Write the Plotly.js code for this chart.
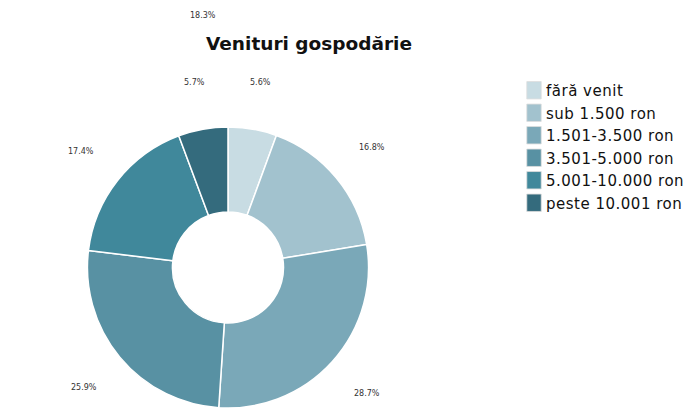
<!DOCTYPE html>
<html>
<head>
<meta charset="utf-8">
<script src="https://cdn.plot.ly/plotly-3.0.1.min.js"></script>
<style>html,body{margin:0;padding:0;background:#fff;}#chart{width:689px;height:408px;}</style>
</head>
<body>
<div id="chart"></div>
<script>
const categories = ["fără venit", "sub 1.500 ron", "1.501-3.500 ron", "3.501-5.000 ron", "5.001-10.000 ron", "peste 10.001 ron"];
const values = [5.6, 16.8, 28.7, 25.9, 17.4, 5.7];
const valueLabels = ["5.6%", "16.8%", "28.7%", "25.9%", "17.4%", "5.7%"];
const strayLabel = "18.3%";
const colors = ["#c8dce3", "#a2c2ce", "#7aa8b8", "#5891a3", "#40889b", "#346b7d"];

const W = 689, H = 408;
const domX = [0.1248, 0.537];
const domY = [0.0, 0.689];

// pie geometry derived from domain
const rPx = Math.min((domX[1]-domX[0])*W, (domY[1]-domY[0])*H)/2;
const cx = (domX[0]+domX[1])/2;
const cy = (domY[0]+domY[1])/2;
const total = values.reduce((a,b)=>a+b,0);
const annotations = [];
let cum = 0;
values.forEach((v,i)=>{
  const mid = (cum + v/2)/total*2*Math.PI;
  cum += v;
  const rl = rPx*1.335;
  annotations.push({
    x: cx + rl*Math.sin(mid)/W,
    y: cy + rl*Math.cos(mid)/H,
    xref: 'paper', yref: 'paper', showarrow: false,
    xanchor: 'center', yanchor: 'middle',
    text: valueLabels[i],
    font: {family: 'DejaVu Sans', size: 8, color: '#333'}
  });
});
annotations.push({x: 203/W, y: 1-16/H, xref:'paper', yref:'paper', showarrow:false,
  xanchor: 'center', yanchor: 'middle',
  text: strayLabel, font:{family:'DejaVu Sans', size:8, color:'#333'}});

const data = [{
  type: 'pie',
  labels: categories,
  values: values,
  hole: 0.395,
  sort: false,
  direction: 'clockwise',
  rotation: 0,
  textinfo: 'none',
  marker: {colors: colors, line: {color: '#ffffff', width: 1.5}},
  domain: {x: domX, y: domY}
}];

const layout = {
  width: W, height: H,
  margin: {l:0, r:0, t:0, b:0},
  paper_bgcolor: '#ffffff',
  title: {text: '<b>Venituri gospodărie</b>', x: 309/W, xanchor: 'center', y: 1-44/H, yanchor: 'middle',
          font: {family: 'DejaVu Sans', size: 18.5, color: '#111'}},
  showlegend: true,
  legend: {x: 506/W, xanchor: 'left', y: 1-74/H, yanchor: 'top',
           font: {family: 'DejaVu Sans', size: 15, color: '#111'},
           bgcolor: 'rgba(0,0,0,0)', itemwidth: 30},
  annotations: annotations
};
Plotly.newPlot('chart', data, layout, {displayModeBar: false, staticPlot: true}).then(gd => {
  gd.querySelectorAll('.legend .legendpoints path').forEach(p => {
    const t = p.getAttribute('transform') || '';
    p.setAttribute('transform', t + ' translate(8,0) scale(1.2,1.45)');
    p.style.strokeWidth = '0.6px';
    p.style.stroke = '#dddddd';
  });
  gd.querySelectorAll('.legend text.legendtext').forEach(t => {
    t.style.letterSpacing = '0.5px';
  });
  gd.querySelectorAll('.legend [clip-path]').forEach(el => el.removeAttribute('clip-path'));
});
</script>
</body>
</html>
